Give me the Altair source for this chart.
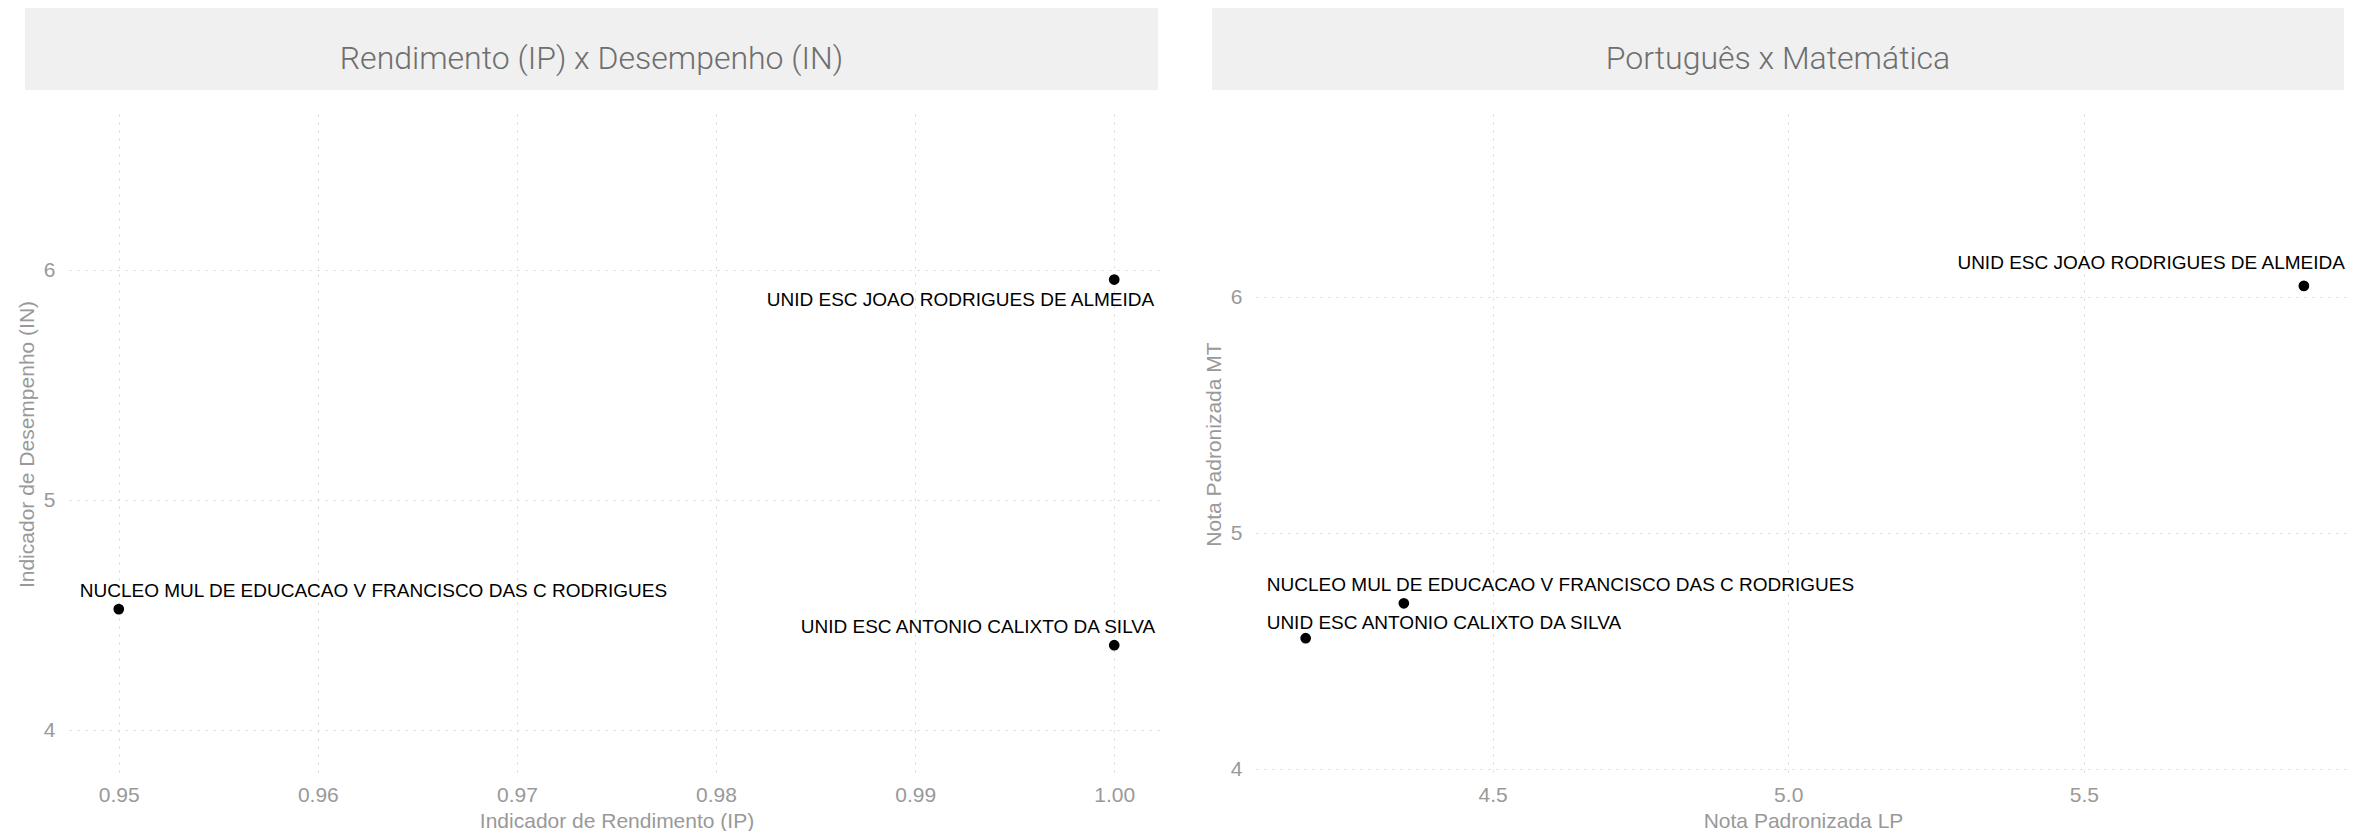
import altair as alt
import pandas as pd

# ---- data ----
escolas = [
    "UNID ESC JOAO RODRIGUES DE ALMEIDA",
    "NUCLEO MUL DE EDUCACAO V FRANCISCO DAS C RODRIGUES",
    "UNID ESC ANTONIO CALIXTO DA SILVA",
]
ip_vals = [1.00, 0.95, 1.00]          # Indicador de Rendimento (IP)
in_vals = [5.96, 4.527, 4.37]         # Indicador de Desempenho (IN)
lp_vals = [5.872, 4.35, 4.184]        # Nota Padronizada LP
mt_vals = [6.047, 4.703, 4.555]       # Nota Padronizada MT

titles = ["Rendimento (IP) x Desempenho (IN)", "Português x Matemática"]
x_titles = ["Indicador de Rendimento (IP)", "Nota Padronizada LP"]
y_titles = ["Indicador de Desempenho (IN)", "Nota Padronizada MT"]
x_ticks_1 = [0.95, 0.96, 0.97, 0.98, 0.99, 1.00]
x_ticks_2 = [4.5, 5.0, 5.5]
y_ticks = [4, 5, 6]

df = pd.DataFrame({"escola": escolas, "ip": ip_vals, "in": in_vals,
                   "lp": lp_vals, "mt": mt_vals})

FONT = "Liberation Sans"
GRID = "#d4d4d4"
AXIS_TXT = "#999999"

# label placement (styles): (align, dx, dy) per school
lab1 = {
    escolas[0]: ("right", 40, 20),
    escolas[1]: ("left", -39, -18),
    escolas[2]: ("right", 41, -18),
}
lab2 = {
    escolas[0]: ("right", 41, -23),
    escolas[1]: ("left", -137, -18),
    escolas[2]: ("left", -39, -15),
}


def axis(title, values, fmt, orient):
    return alt.Axis(
        title=title, values=values, format=fmt, grid=True, gridColor=GRID,
        gridDash=[2, 6], gridWidth=1, domain=False, ticks=False, tickSize=0,
        labelFont=FONT, labelFontSize=21, labelColor=AXIS_TXT,
        labelPadding=14 if orient == "left" else 10,
        titleFont=FONT, titleFontSize=21, titleColor=AXIS_TXT,
        titleFontWeight="normal",
        titlePadding=6 if orient == "left" else 5,
    )


def panel(xcol, ycol, xdom, ydom, xt, yt, xticks, xfmt, title, labs, w, h):
    xs = alt.Scale(domain=xdom, nice=False, zero=False)
    ys = alt.Scale(domain=ydom, nice=False, zero=False)
    strip_df = pd.DataFrame({"t": [title]})
    strip = alt.Chart(strip_df).mark_rect(color="#f0f0f0").encode(
        x=alt.value(-44), x2=alt.value(w - 6),
        y=alt.value(-106), y2=alt.value(-24),
    )
    stitle = alt.Chart(strip_df).mark_text(
        font="Roboto", fontSize=32, fontWeight=300, color="#6e6e6e",
        align="center", baseline="alphabetic",
    ).encode(text="t:N", x=alt.value((w - 50) / 2), y=alt.value(-45))
    pts = alt.Chart(df).mark_circle(size=115, color="black", opacity=1).encode(
        x=alt.X(f"{xcol}:Q", scale=xs, axis=axis(xt, xticks, xfmt, "bottom")),
        y=alt.Y(f"{ycol}:Q", scale=ys, axis=axis(yt, y_ticks, "d", "left")),
    )
    layers = [strip, stitle, pts]
    for name, (al, dx, dy) in labs.items():
        layers.append(
            alt.Chart(df).transform_filter(alt.datum.escola == name)
            .mark_text(font=FONT, fontSize=19, color="black", align=al,
                       baseline="middle", dx=dx, dy=dy)
            .encode(x=alt.X(f"{xcol}:Q", scale=xs), y=alt.Y(f"{ycol}:Q", scale=ys),
                    text="escola:N")
        )
    return alt.layer(*layers).properties(
        width=w, height=h, view=alt.ViewBackground(stroke="transparent", strokeWidth=0)
    )


p1 = panel("ip", "in", [0.9475, 1.0025], [3.81, 6.68], x_titles[0], y_titles[0],
           x_ticks_1, ".2f", titles[0], lab1, 1095, 660)
p2 = panel("lp", "mt", [4.1, 5.95], [3.98, 6.775], x_titles[1], y_titles[1],
           x_ticks_2, ".1f", titles[1], lab2, 1094, 660)

chart = alt.hconcat(p1, p2, spacing=39).properties(
    padding={"left": 8, "top": 0, "right": 0, "bottom": 0}
).configure_view(stroke="transparent", strokeWidth=0).configure(background="white")

chart.save("out.html", embed_options={"renderer": "svg", "actions": False})
